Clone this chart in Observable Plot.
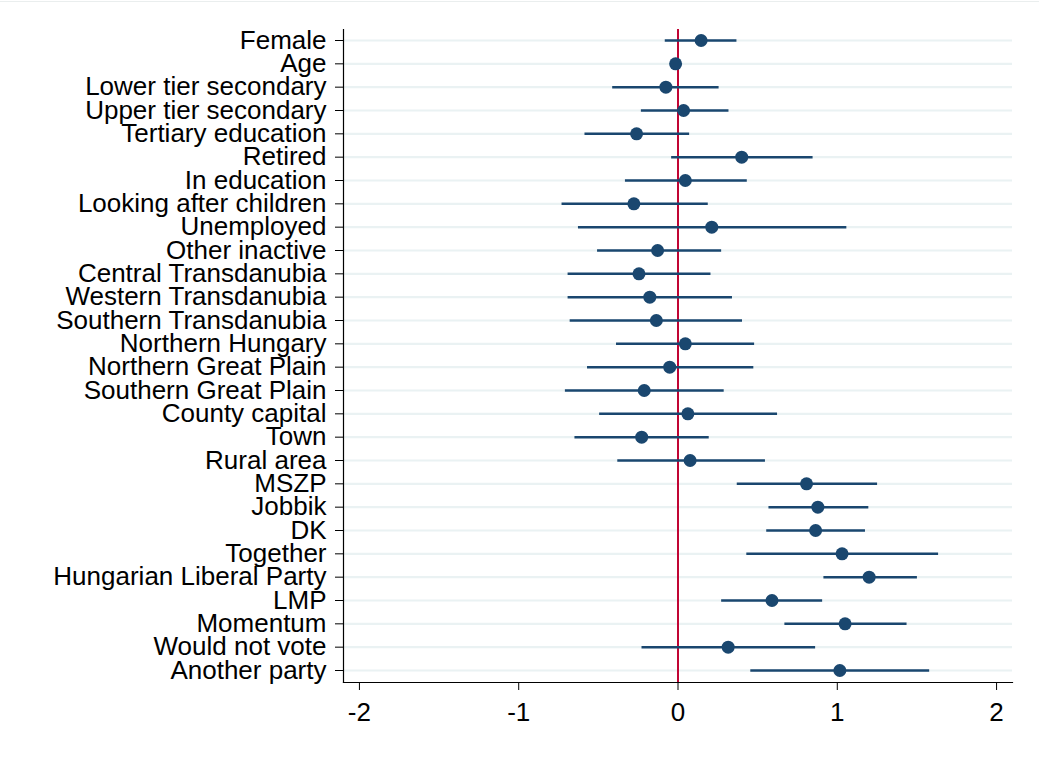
<!DOCTYPE html>
<html>
<head>
<meta charset="utf-8">
<script src="https://cdn.jsdelivr.net/npm/d3@7"></script>
<script src="https://cdn.jsdelivr.net/npm/@observablehq/plot@0.6"></script>
<style>
  html, body { margin: 0; padding: 0; background: #fff; }
  #wrap { position: relative; width: 1039px; height: 757px; }
  #topline { position: absolute; left: 0; top: 1px; width: 1039px; height: 1px; background: #eaeeee; }
  #chart svg { display: block; }
</style>
</head>
<body>
<div id="wrap"><div id="chart"></div><div id="topline"></div></div>
<script>
const labels = [
  "Female", "Age", "Lower tier secondary", "Upper tier secondary", "Tertiary education",
  "Retired", "In education", "Looking after children", "Unemployed", "Other inactive",
  "Central Transdanubia", "Western Transdanubia", "Southern Transdanubia", "Northern Hungary",
  "Northern Great Plain", "Southern Great Plain", "County capital", "Town", "Rural area",
  "MSZP", "Jobbik", "DK", "Together", "Hungarian Liberal Party", "LMP", "Momentum",
  "Would not vote", "Another party"
];
const estimates = [
  0.145, -0.015, -0.076, 0.035, -0.26,
  0.40, 0.046, -0.277, 0.212, -0.128,
  -0.245, -0.177, -0.136, 0.046,
  -0.052, -0.212, 0.062, -0.228, 0.076,
  0.807, 0.878, 0.864, 1.03, 1.20, 0.59, 1.049,
  0.315, 1.016
];
const lower = [
  -0.08, -0.035, -0.41, -0.23, -0.584,
  -0.04, -0.33, -0.728, -0.625, -0.505,
  -0.69, -0.69, -0.677, -0.386,
  -0.568, -0.707, -0.492, -0.647, -0.378,
  0.372, 0.571, 0.557, 0.432, 0.916, 0.274, 0.671,
  -0.226, 0.457
];
const upper = [
  0.37, 0.005, 0.258, 0.32, 0.073,
  0.848, 0.435, 0.19, 1.06, 0.274,
  0.207, 0.342, 0.405, 0.481,
  0.476, 0.29, 0.625, 0.196, 0.549,
  1.253, 1.198, 1.177, 1.636, 1.503, 0.908, 1.438,
  0.864, 1.58
];
const xTicks = [-2, -1, 0, 1, 2];

const data = labels.map((label, i) => ({label, est: estimates[i], lo: lower[i], hi: upper[i]}));

const navy = "#1a476f";
const chart = Plot.plot({
  width: 1039,
  height: 757,
  marginLeft: 343,
  marginRight: 27,
  marginTop: 29,
  marginBottom: 75,
  style: {fontFamily: "'Liberation Sans', Arial, sans-serif", fontSize: "26px", background: "#fff", color: "#000"},
  x: {domain: [-2.1, 2.1]},
  y: {type: "point", domain: labels, padding: 0, insetTop: 11, insetBottom: 12, round: false},
  marks: [
    Plot.ruleY(labels, {y: d => d, stroke: "#eaf2f3", strokeWidth: 2.2}),
    Plot.ruleX([0], {stroke: "#c10534", strokeWidth: 2}),
    Plot.ruleY(data, {y: "label", x1: "lo", x2: "hi", stroke: navy, strokeWidth: 2.5}),
    Plot.dot(data, {x: "est", y: "label", r: 6.5, fill: navy, stroke: "none"}),
    Plot.axisY({tickSize: 8, tickPadding: 9, label: null, fontSize: 26}),
    Plot.axisX({ticks: xTicks, tickSize: 8, tickPadding: 12, label: null, fontSize: 26, tickFormat: d => String(d).replace("−", "-")}),
    Plot.frame({anchor: "left", stroke: "#000", strokeWidth: 1.2}),
    Plot.frame({anchor: "bottom", stroke: "#000", strokeWidth: 1.2})
  ]
});
document.getElementById("chart").appendChild(chart);
</script>
</body>
</html>
